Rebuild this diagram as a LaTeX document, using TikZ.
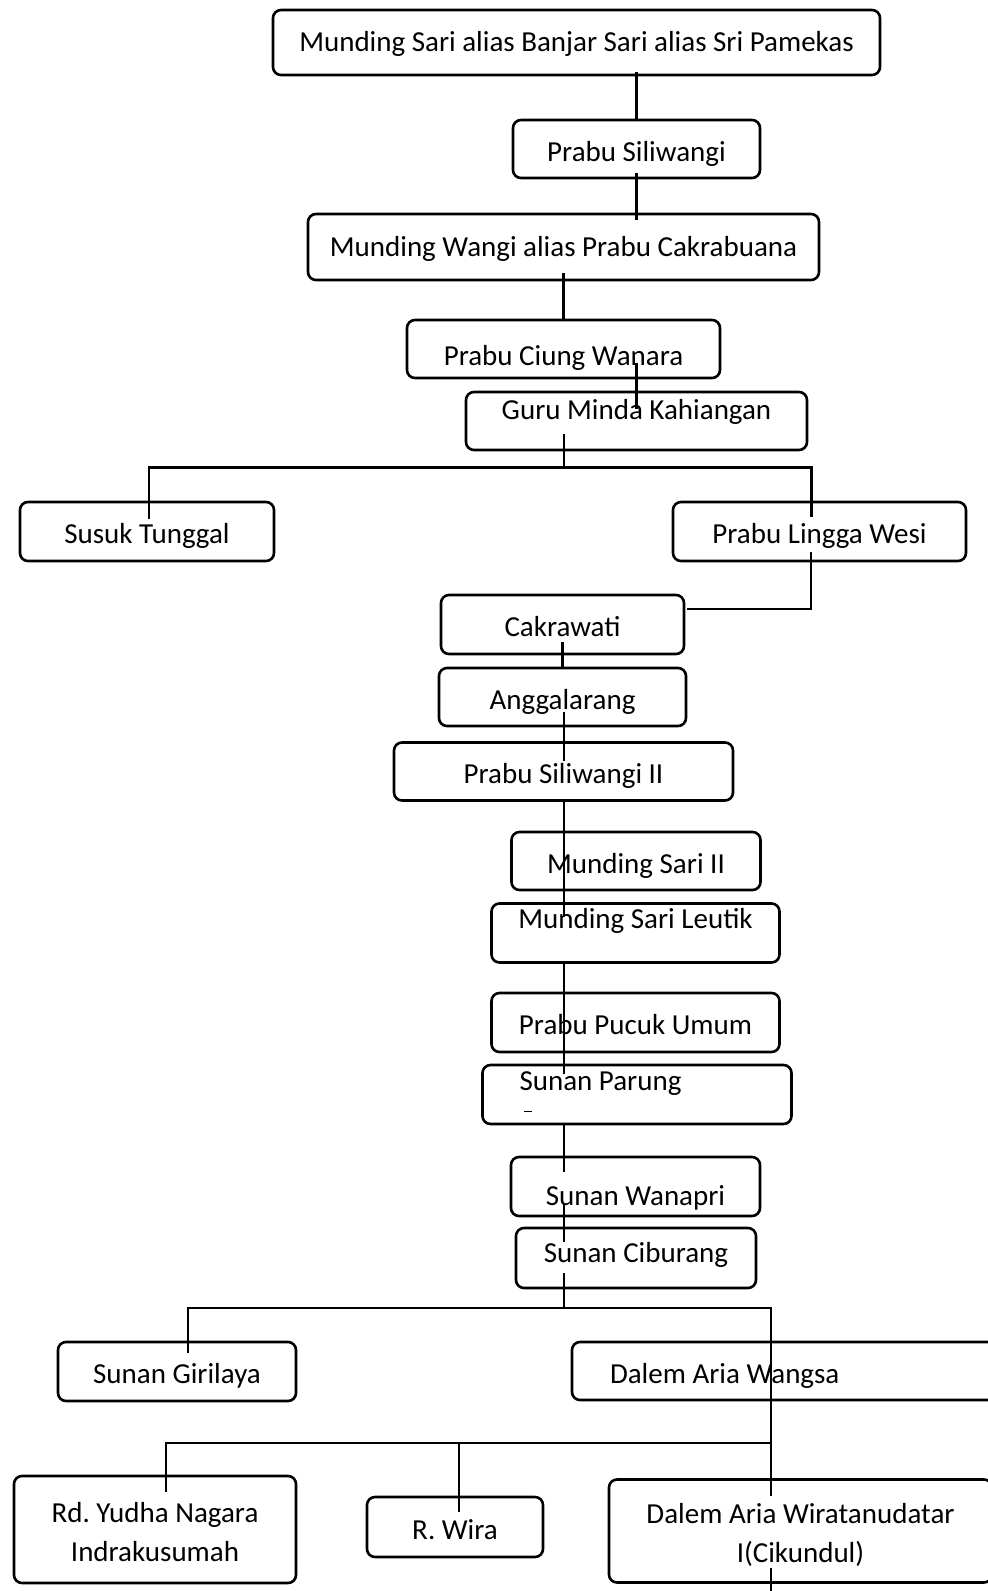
\documentclass[tikz,border=0pt]{standalone}
\usepackage{fontspec}
\setmainfont{Carlito}
\usetikzlibrary{calc, positioning}
\tikzset{
    famBox/.style={draw, rounded corners=4pt, line width=1.3pt, inner sep=0pt, text height=15pt, text depth=3pt, font=\fontsize{14.5}{19.5}\selectfont},
    famLeft/.style={famBox, align=flush left, inner xsep=#1},
    famLink/.style={line width=1.3pt},
}

\begin{document}
\begin{tikzpicture}[x=0.5pt, y=-0.5pt]
        \useasboundingbox (0,0) rectangle (988,1591);
        \clip (0,0) rectangle (988,1591);

        % upper line
        \node[famBox, minimum width=303.5pt, minimum height=32.5pt, text depth=6pt] (pamekas) at (576.5,42.5) {Munding Sari alias Banjar Sari alias Sri Pamekas};
        \node[famBox, minimum width=123.5pt, minimum height=29pt] (siliwangi) at (636.5,149) {Prabu Siliwangi};
        \node[famBox, minimum width=255.5pt, minimum height=33pt, text depth=6pt] (cakrabuana) at (563.5,247) {Munding Wangi alias Prabu Cakrabuana};
        \node[famBox, minimum width=156.5pt, minimum height=29pt, text height=19pt] (ciung) at (563.5,349) {Prabu Ciung Wanara};
        \node[famBox, minimum width=170.5pt, minimum height=29pt, text height=13pt, text depth=15pt] (guru) at (636.5,421) {Guru Minda Kahiangan};
        \node[famBox, minimum width=127pt, minimum height=29.5pt] (tunggal) at (147,531.5) {Susuk Tunggal};
        \node[famBox, minimum width=146.5pt, minimum height=29.5pt] (linggawesi) at (819.5,531.5) {Prabu Lingga Wesi};

        % middle line
        \node[famBox, minimum width=121.5pt, minimum height=29.5pt] (cakrawati) at (562.5,624.5) {Cakrawati};
        \node[famBox, minimum width=123.5pt, minimum height=29pt] (anggalarang) at (562.5,697) {Anggalarang};
        \node[famBox, minimum width=169.5pt, minimum height=29pt] (siliwangiII) at (563.5,771.5) {Prabu Siliwangi II};
        \node[famBox, minimum width=124.5pt, minimum height=29pt] (mundingII) at (636,861) {Munding Sari II};
        \node[famBox, minimum width=144pt, minimum height=29.5pt, text height=12pt, text depth=17pt] (leutik) at (635.5,933) {Munding Sari Leutik};
        \node[famBox, minimum width=144pt, minimum height=29.5pt] (pucuk) at (635.5,1022.5) {Prabu Pucuk Umum};
        \node[famLeft=18.5pt, text width=117.5pt, minimum height=29.5pt, text height=12pt, text depth=16.5pt] (parung) at (637,1094.5) {Sunan Parung};
        \node[famBox, minimum width=124.5pt, minimum height=29.5pt, text height=21.5pt] (wanapri) at (635.5,1186.5) {Sunan Wanapri};
        \node[famBox, minimum width=120pt, minimum height=30pt, text depth=11pt] (ciburang) at (636,1258) {Sunan Ciburang};

        % lower line
        \node[famBox, minimum width=119pt, minimum height=29.5pt] (girilaya) at (177,1371.5) {Sunan Girilaya};
        \node[famLeft=19pt, text width=181pt, minimum height=29pt] (wangsa) at (791,1371) {Dalem Aria Wangsa};
        \node[famBox, minimum width=141pt, minimum height=53.5pt, align=flush center, text height=35pt] (yudha) at (155,1529.5) {Rd.\ Yudha Nagara\\Indrakusumah};
        \node[famBox, minimum width=88pt, minimum height=30pt] (wira) at (455,1527) {R.\ Wira};
        \node[famBox, minimum width=191.5pt, minimum height=51.5pt, align=flush center, text height=34pt] (wiratanudatar) at (800.5,1531) {Dalem Aria Wiratanudatar\\I(Cikundul)};

        \draw[line width=0.6pt] ($(parung.west)+(43,17)$) -- ++(8,0);

        % links
        \draw[famLink] ($(pamekas.south -| siliwangi.north)+(0,-4)$) -- (siliwangi.north);
        \draw[famLink] ($(siliwangi.south)+(0,-6)$) -- ($(cakrabuana.north -| siliwangi.south)+(0,7)$);
        \draw[famLink] ($(cakrabuana.south)+(0,-8)$) -- (ciung.north);
        \draw[famLink] ($(ciung.south -| guru.north)+(0,-16)$) -- ($(guru.north)+(0,18)$);

        \coordinate (fork1) at (564,469);
        \draw[famLink] ($(guru.south -| fork1)+(0,-17)$) -- (fork1);
        \draw[famLink] ($(tunggal.north)+(2,18)$) |- ($(linggawesi.north)+(-8,-33)$) -- ($(linggawesi.north)+(-8,16)$);
        \draw[famLink] ($(linggawesi.south)+(-8.5,-10)$) |- ($(cakrawati.east)+(2,-15.5)$);

        \draw[famLink] ($(cakrawati.south)+(0,-13)$) -- (anggalarang.north);
        \draw[famLink] ($(anggalarang.south)+(1.5,-15)$) -- ($(siliwangiII.north)+(0.5,20)$);
        \draw[famLink] ($(siliwangiII.south)+(0.5,0)$) -- ($(leutik.north -| fork1)+(0,15)$);
        \draw[famLink] (leutik.south -| fork1) -- ($(parung.north -| fork1)+(0,10)$);
        \draw[famLink] (parung.south -| fork1) -- ($(wanapri.north -| fork1)+(0,16)$);
        \draw[famLink] ($(wanapri.south -| fork1)+(0,-13)$) -- ($(ciburang.north -| fork1)+(0,15)$);

        \coordinate (fork2) at (564,1308);
        \coordinate (wangsaLine) at (771,1308);
        \draw[famLink] ($(ciburang.south -| fork2)+(0,-16)$) -- (fork2);
        \draw[famLink] ($(girilaya.north)+(11,12)$) |- (wangsaLine) -- ($(wiratanudatar.north -| wangsaLine)+(0,18)$);

        \coordinate (fork3) at (771,1443);
        \coordinate (wiraTop) at ($(wira.north)+(4,16)$);
        \draw[famLink] ($(yudha.north)+(11,17)$) |- (fork3);
        \draw[famLink] (wiraTop) -- (wiraTop |- fork3);
        \draw[famLink] ($(wiratanudatar.south -| fork3)+(0,-16)$) -- ++(0,30);

    \end{tikzpicture}
\end{document}
